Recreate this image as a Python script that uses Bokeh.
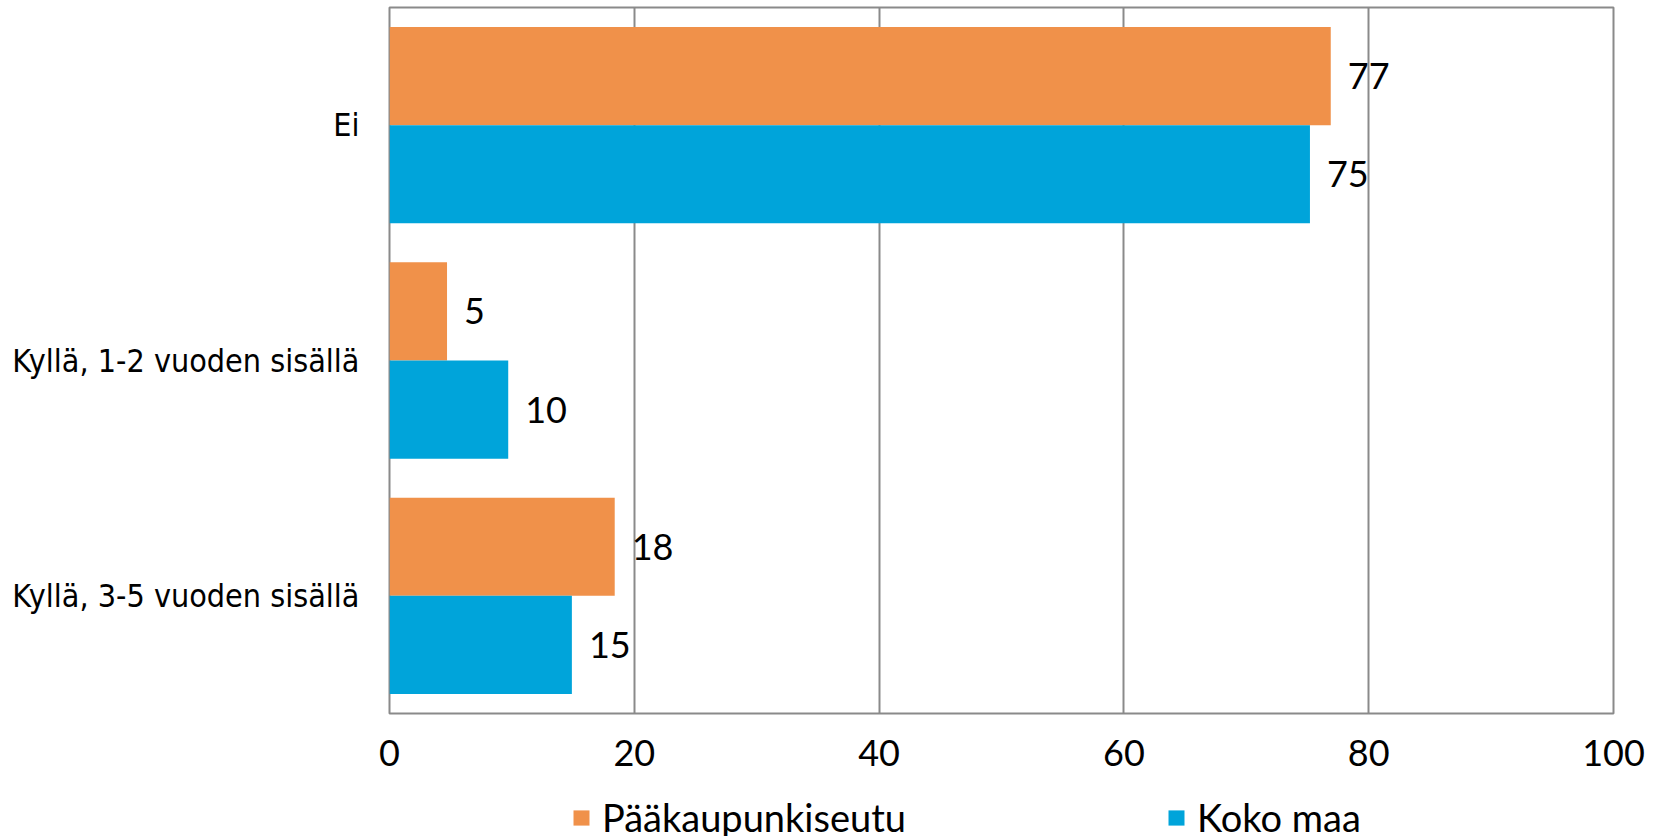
from bokeh.plotting import figure
from bokeh.models import ColumnDataSource, FactorRange, Range1d, Legend, LegendItem, FixedTicker
from bokeh.layouts import column
from bokeh.transform import dodge
from bokeh.core.properties import value
from bokeh.embed import file_html
from bokeh.resources import INLINE

# ---- data ----
categories = ["Ei", "Kyllä, 1-2 vuoden sisällä", "Kyllä, 3-5 vuoden sisällä"]
series_names = ["Pääkaupunkiseutu", "Koko maa"]
paakaupunkiseutu = [76.9, 4.7, 18.4]
koko_maa = [75.2, 9.7, 14.9]
paakaupunkiseutu_labels = ["77", "5", "18"]
koko_maa_labels = ["75", "10", "15"]
x_ticks = [0, 20, 40, 60, 80, 100]

ORANGE = "#F0914A"
BLUE = "#00A4DA"
GRAY = "#8A8A8A"
NUM_FONT = "Lato"
CAT_FONT = "DejaVu Sans Condensed, DejaVu Sans"

src = ColumnDataSource(dict(
    cat=categories,
    a=paakaupunkiseutu,
    b=koko_maa,
    la=paakaupunkiseutu_labels,
    lb=koko_maa_labels,
))

W = 1650
p = figure(
    width=W, height=790,
    y_range=FactorRange(factors=categories[::-1], range_padding=0),
    x_range=(0, 100),
    output_backend="svg", toolbar_location=None,
    min_border_left=389, min_border_right=37, min_border_top=7, min_border_bottom=77,
)

bh = 0.417
off = 0.2085
p.hbar(y=dodge("cat", off, range=p.y_range), right="a", left=0, height=bh,
       source=src, fill_color=ORANGE, line_color=None)
p.hbar(y=dodge("cat", -off, range=p.y_range), right="b", left=0, height=bh,
       source=src, fill_color=BLUE, line_color=None)

for col, lab, o in (("a", "la", off), ("b", "lb", -off)):
    p.text(x=col, y=dodge("cat", o, range=p.y_range), text=lab, source=src,
           x_offset=17, text_align="left", text_baseline="middle",
           text_font=value(NUM_FONT), text_font_size="36px", text_color="black")

# axes
p.xaxis.ticker = FixedTicker(ticks=x_ticks)
p.xaxis.axis_line_color = None
p.xaxis.major_tick_line_color = None
p.xaxis.minor_tick_line_color = None
p.xaxis.major_tick_out = 0
p.xaxis.major_label_text_font = NUM_FONT
p.xaxis.major_label_text_font_size = "36px"
p.xaxis.major_label_text_color = "black"
p.xaxis.major_label_standoff = 26

p.yaxis.axis_line_color = None
p.yaxis.major_tick_line_color = None
p.yaxis.minor_tick_line_color = None
p.yaxis.major_tick_out = 0
p.yaxis.major_label_text_font = CAT_FONT
p.yaxis.major_label_text_font_size = "32px"
p.yaxis.major_label_text_color = "black"
p.yaxis.major_label_standoff = 30

p.ygrid.grid_line_color = None
p.xgrid.grid_line_color = GRAY
p.xgrid.grid_line_width = 2

p.outline_line_color = GRAY
p.outline_line_width = 2
p.background_fill_color = "white"
p.border_fill_color = "white"

# ---- legend strip (series keys drawn by Bokeh's Legend) ----
lg = figure(
    width=W, height=46,
    y_range=FactorRange(factors=categories[::-1]),
    x_range=Range1d(0, 100),
    x_axis_type=None, y_axis_type=None,
    output_backend="svg", toolbar_location=None,
    min_border=0, outline_line_color=None,
)
lg.grid.grid_line_color = None
# zero-height keys: only their colours are used by the legend
ka = lg.hbar(y="cat", right="a", left=0, height=0, source=src,
             fill_color=ORANGE, line_color=None)
kb = lg.hbar(y="cat", right="b", left=0, height=0, source=src,
             fill_color=BLUE, line_color=None)

legend = Legend(
    items=[LegendItem(label=series_names[0], renderers=[ka]),
           LegendItem(label=series_names[1], renderers=[kb])],
    orientation="horizontal",
    location=(182, -4),
    glyph_width=20, glyph_height=19, label_standoff=11, spacing=260,
    padding=0, margin=0,
    border_line_color=None, background_fill_alpha=0,
    label_text_font=NUM_FONT, label_text_font_size="38px", label_text_color="black",
)
lg.add_layout(legend, "center")

layout = column(p, lg, spacing=0)
open("out.html", "w").write(file_html(layout, INLINE))
